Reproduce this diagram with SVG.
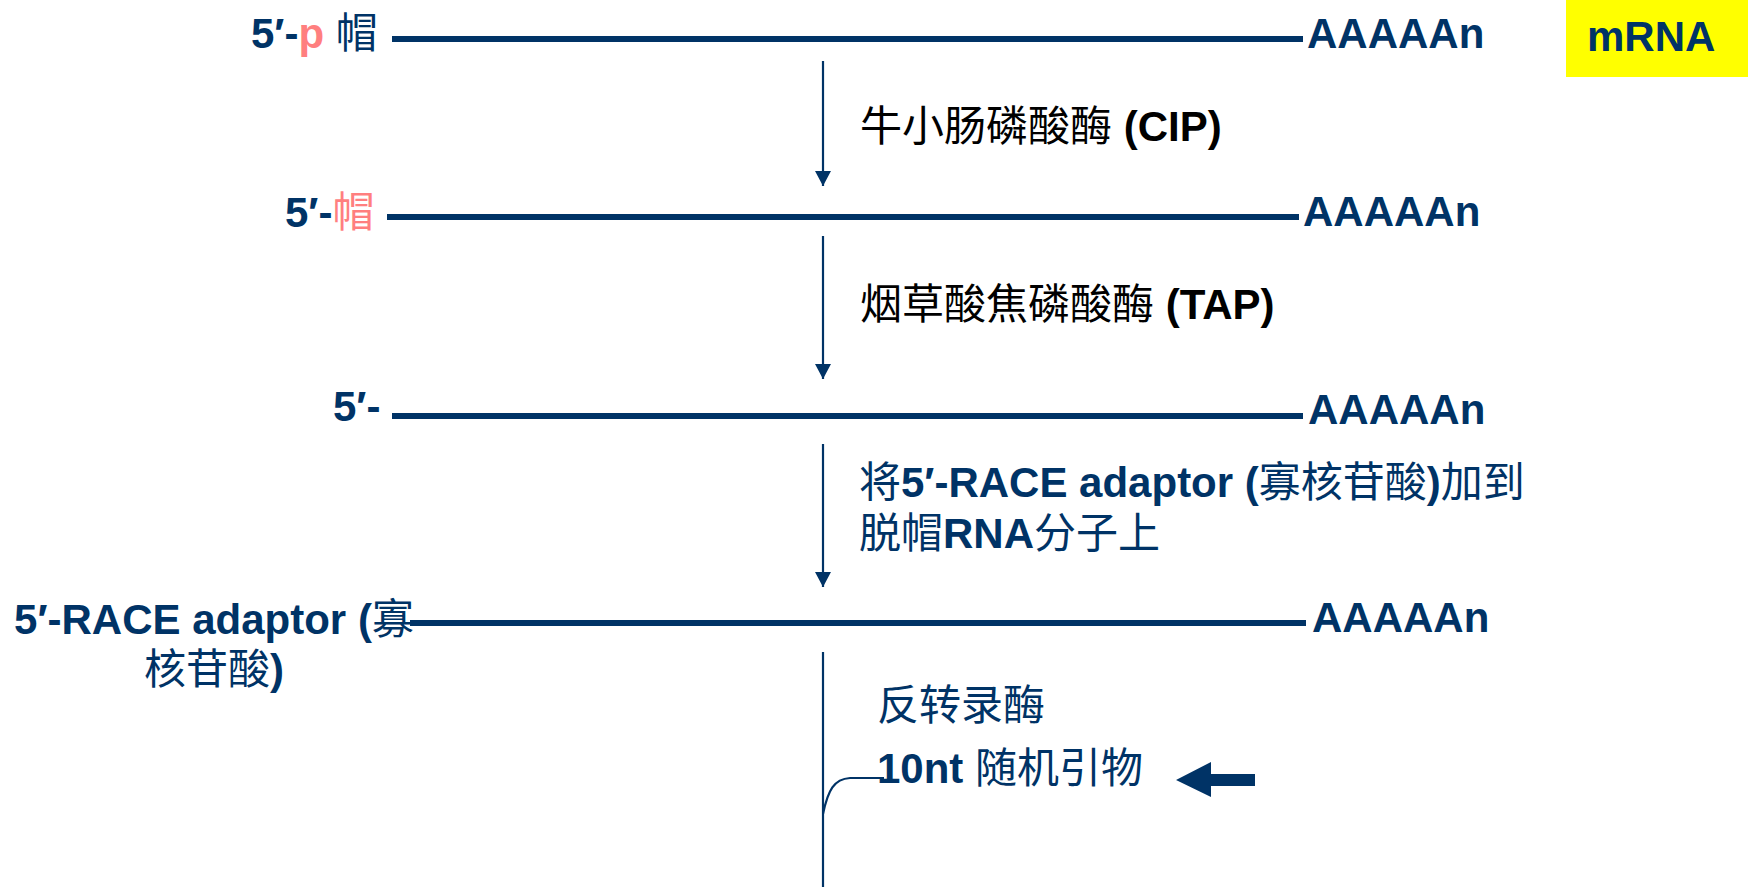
<svg xmlns="http://www.w3.org/2000/svg" width="1748" height="887" viewBox="0 0 1748 887">
<defs>
<style>
text{font-family:"Liberation Sans","Noto Sans CJK SC",sans-serif;font-size:42px;font-weight:bold;fill:#003366}
.cjk{font-family:"Noto Sans CJK SC",sans-serif;font-weight:400}
.blk{fill:#000}
.pink{fill:#FF7F7F}
.strand{stroke:#003366;stroke-width:6;fill:none}
.step{stroke:#003366;stroke-width:2.2;fill:none}
</style>
<marker id="ah" markerWidth="16" markerHeight="15" refX="8" refY="15" orient="0" markerUnits="userSpaceOnUse" viewBox="0 0 16 15">
<path d="M0,0 L16,0 L8,15 Z" fill="#003366"/>
</marker>
</defs>
<rect width="1748" height="887" fill="#fff"/>

<g id="mrna-tag">
<rect x="1566" y="0" width="182" height="77" fill="#FFFF00"/>
<text x="1587" y="51">mRNA</text>
</g>

<g id="strand1">
<text x="251" y="48">5′-<tspan class="pink">p</tspan> <tspan class="cjk">帽</tspan></text>
<line class="strand" x1="392" y1="39" x2="1303" y2="39"/>
<text x="1307" y="48">AAAAAn</text>
</g>

<g id="strand2">
<text x="285" y="227">5′-<tspan class="pink cjk">帽</tspan></text>
<line class="strand" x1="387" y1="217" x2="1299" y2="217"/>
<text x="1303" y="226">AAAAAn</text>
</g>

<g id="strand3">
<text x="333" y="421">5′-</text>
<line class="strand" x1="392" y1="416" x2="1303" y2="416"/>
<text x="1308" y="424">AAAAAn</text>
</g>

<g id="strand4">
<line class="strand" x1="410" y1="623" x2="1306" y2="623"/>
<text x="214" y="634" text-anchor="middle">5′-RACE adaptor (<tspan class="cjk">寡</tspan></text>
<text x="214" y="684" text-anchor="middle"><tspan class="cjk">核苷酸</tspan>)</text>
<text x="1312" y="632">AAAAAn</text>
</g>

<g id="step1-label">
<text class="blk" x="860" y="141"><tspan class="cjk">牛小肠磷酸酶</tspan> (CIP)</text>
</g>
<g id="step2-label">
<text class="blk" x="860" y="319"><tspan class="cjk">烟草酸焦磷酸酶</tspan> (TAP)</text>
</g>
<g id="step3-label">
<text x="859" y="497"><tspan class="cjk">将</tspan>5′-RACE adaptor (<tspan class="cjk">寡核苷酸</tspan>)<tspan class="cjk">加到</tspan></text>
<text x="859" y="548"><tspan class="cjk">脱帽</tspan>RNA<tspan class="cjk">分子上</tspan></text>
</g>
<g id="step4-label">
<text x="877" y="720"><tspan class="cjk">反转录酶</tspan></text>
<text x="877" y="783">10nt <tspan class="cjk">随机引物</tspan></text>
</g>

<g id="connectors">
<line class="step" x1="823" y1="61" x2="823" y2="186" marker-end="url(#ah)"/>
<line class="step" x1="823" y1="236" x2="823" y2="379" marker-end="url(#ah)"/>
<line class="step" x1="823" y1="444" x2="823" y2="587" marker-end="url(#ah)"/>
<line class="step" x1="823" y1="652" x2="823" y2="887"/>
<path class="step" d="M823,814 C828,790 834,779 850,778 L884,778"/>
<path d="M1176,780 L1211,762 L1211,774 L1255,774 L1255,786 L1211,786 L1211,797 Z" fill="#003366"/>
</g>
</svg>
